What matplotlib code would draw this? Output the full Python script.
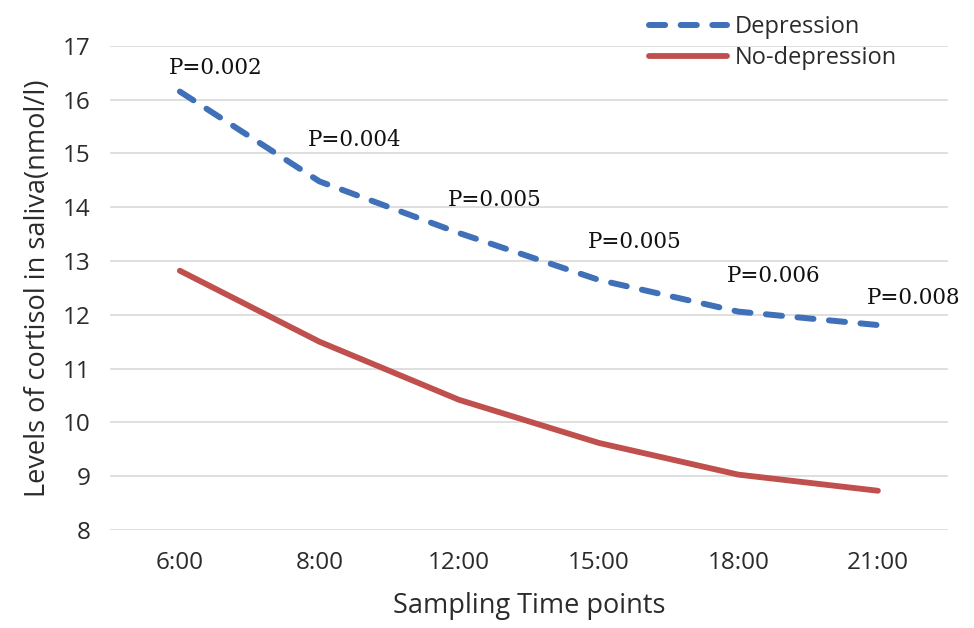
import numpy as np
import matplotlib.pyplot as plt

times = ['6:00', '8:00', '12:00', '15:00', '18:00', '21:00']
depression = [16.15, 14.48, 13.52, 12.65, 12.06, 11.81]
no_depression = [12.82, 11.5, 10.42, 9.62, 9.03, 8.73]
p_values = ['P=0.002', 'P=0.004', 'P=0.005', 'P=0.005', 'P=0.006', 'P=0.008']
# vertical offset of each P label above the depression line (data units)
p_offsets = [0.44, 0.77, 0.62, 0.71, 0.67, 0.51]

plt.rcParams['font.family'] = ['Open Sans', 'DejaVu Sans']
txt = '#2b2b2b'

fig = plt.figure(figsize=(9.74, 6.28), dpi=100)
ax = fig.add_axes([0.113, 0.156, 0.86, 0.771])

x = np.arange(len(times))
ax.plot(x, depression, color='#3F70B8', lw=4.3, ls=(0, (2.7, 2.6)),
        dash_capstyle='round', solid_capstyle='round', label='Depression', zorder=3)
ax.plot(x, no_depression, color='#C0504D', lw=4.2, solid_capstyle='round',
        label='No-depression', zorder=3)

for i, (p, v, o) in enumerate(zip(p_values, depression, p_offsets)):
    ax.text(i - 0.08, v + o, p, family='DejaVu Serif', fontsize=15.5,
            color='#111111', ha='left', va='center', zorder=4)

ax.set_xlim(-0.5, 5.5)
ax.set_ylim(8, 17)
ax.set_yticks(range(8, 18))
ax.set_xticks(x)
ax.set_xticklabels(times)
ax.tick_params(length=0, labelsize=17.5, colors=txt)
ax.tick_params(axis='x', pad=15)
ax.tick_params(axis='y', pad=14)
ax.grid(axis='y', color='#D9D9D9', lw=1.2)
ax.set_axisbelow(True)
for s in ax.spines.values():
    s.set_visible(False)

ax.set_xlabel('Sampling Time points', fontsize=19.5, color=txt, labelpad=12)
ax.set_ylabel('Levels of cortisol in saliva(nmol/l)', fontsize=19.5, color=txt, labelpad=8)

leg = fig.legend(loc='upper left', bbox_to_anchor=(0.645, 1.01), frameon=False,
                 fontsize=17, handlelength=3.3, handletextpad=0.3, labelspacing=0.3,
                 labelcolor=txt)

fig.savefig('out.png', dpi=100)
